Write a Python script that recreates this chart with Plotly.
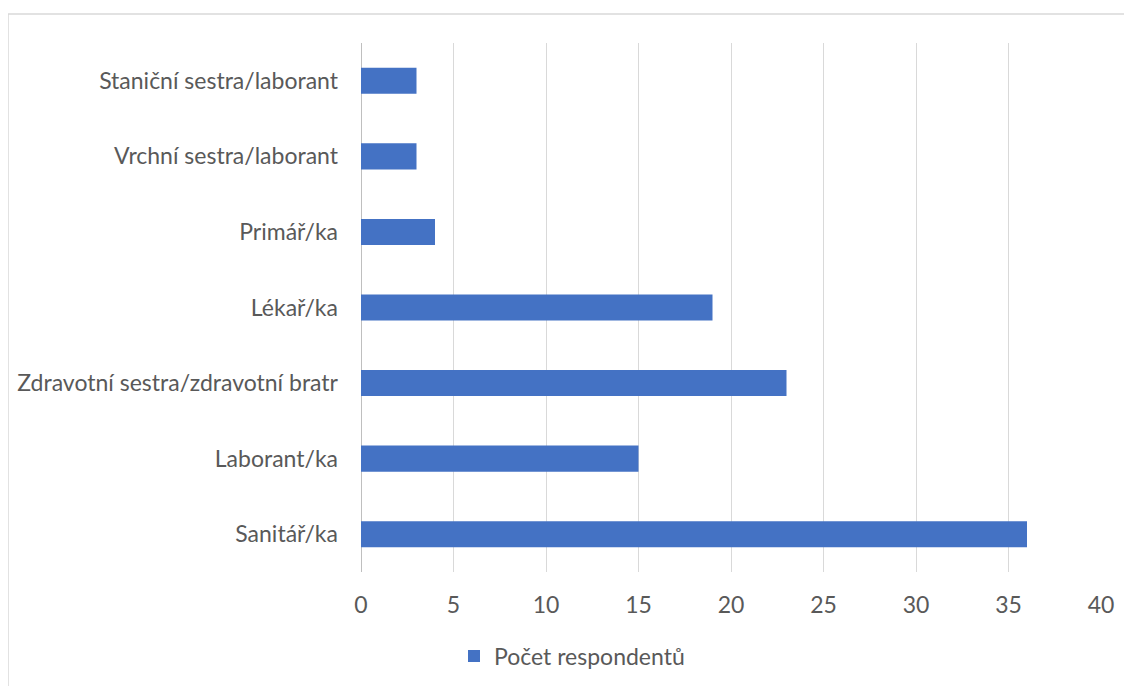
import plotly.graph_objects as go

categories = ["Sanitář/ka", "Laborant/ka", "Zdravotní sestra/zdravotní bratr",
              "Lékař/ka", "Primář/ka", "Vrchní sestra/laborant", "Staniční sestra/laborant"]
values = [36, 15, 23, 19, 4, 3, 3]
series_name = "Počet respondentů"
x_ticks = [0, 5, 10, 15, 20, 25, 30, 35, 40]

# page has an 8px body margin, so the figure is laid out in shifted coordinates
OFF = 8
W, H = 1132 - OFF, 686 - OFF
L, R, T, B = 361 - OFF, 31, 43 - OFF, 114
pw, ph = W - L - R, H - T - B

fig = go.Figure(go.Bar(
    y=categories, x=values, orientation="h", name=series_name,
    marker=dict(color="#4472C4", line=dict(width=0)),
    showlegend=True,
))

font = dict(family="Lato, Open Sans, sans-serif", size=23, color="#595959")

fig.update_layout(
    width=W, height=H,
    margin=dict(l=L, r=R, t=T, b=B, autoexpand=False),
    paper_bgcolor="white", plot_bgcolor="white",
    font=font,
    bargap=0.655,
    xaxis=dict(range=[0, 40], tickvals=x_ticks, showgrid=True, gridcolor="#D9D9D9",
               gridwidth=1.3, zeroline=True, zerolinecolor="#BFBFBF", zerolinewidth=1.3,
               showline=False, ticks="", ticklabelstandoff=17, tickfont=font, fixedrange=True),
    yaxis=dict(categoryorder="array", categoryarray=categories, showgrid=False,
               ticks="", ticklabelstandoff=22, tickfont=font, showline=False, fixedrange=True),
    legend=dict(orientation="h", x=(572 - 361) / pw, xanchor="center",
                y=(572 - 656) / ph, yanchor="middle", font=font,
                bgcolor="rgba(0,0,0,0)", itemwidth=30),
    shapes=[dict(type="rect", xref="paper", yref="paper",
                 x0=(8 - 361) / pw, x1=(1140 - 361) / pw,
                 y0=(572 - 700) / ph, y1=(572 - 14) / ph,
                 line=dict(color="#D9D9D9", width=1.5), fillcolor="rgba(0,0,0,0)",
                 layer="below")],
)

fig.write_html("out.html")
